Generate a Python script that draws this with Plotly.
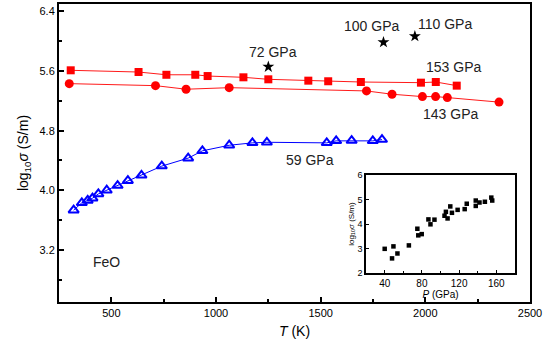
import plotly.graph_objects as go

# ---- data ----
T_153 = [306, 630, 763, 901, 960, 1131, 1250, 1441, 1536, 1692, 1979, 2050, 2150]
s_153 = [5.61, 5.587, 5.55, 5.55, 5.533, 5.516, 5.489, 5.471, 5.463, 5.453, 5.444, 5.453, 5.404]

T_143 = [299, 711, 857, 1063, 1719, 1841, 1986, 2049, 2105, 2352]
s_143 = [5.431, 5.404, 5.356, 5.377, 5.333, 5.289, 5.257, 5.257, 5.244, 5.183]

T_59 = [320, 359, 387, 410, 438, 478, 530, 579, 644, 741, 867, 935, 1063, 1174, 1243,
        1529, 1574, 1648, 1749, 1793]
s_59 = [3.733, 3.831, 3.863, 3.893, 3.951, 4.0, 4.063, 4.129, 4.2, 4.324, 4.431, 4.529,
        4.604, 4.636, 4.644, 4.636, 4.663, 4.667, 4.663, 4.68]

T_star = [1250, 1800, 1950]
s_star = [5.657, 5.987, 6.067]

P_inset = [40, 47.9, 49.4, 53.7, 66, 75.1, 76.1, 79.8, 87, 89.2, 93.5, 104.3, 105.8, 107.6,
           110.5, 112.3, 118.4, 126, 128.2, 137.9, 137.9, 141.9, 147.7, 154.6, 155.6]
s_inset = [2.99, 2.60, 3.09, 2.80, 3.13, 3.81, 3.54, 3.59, 4.19, 3.99, 4.18, 4.34, 4.50, 4.23,
           4.72, 4.46, 4.58, 4.61, 4.83, 4.96, 4.74, 4.88, 4.91, 5.08, 4.96]

labels = [("72 GPa", 1270, 5.853), ("100 GPa", 1742, 6.204), ("110 GPa", 2092, 6.227),
          ("153 GPa", 2135, 5.649), ("143 GPa", 2119, 5.023), ("59 GPa", 1449, 4.404),
          ("FeO", 477, 3.036)]

main_xticks = [500, 1000, 1500, 2000, 2500]
main_yticks = [3.2, 4.0, 4.8, 5.6, 6.4]
inset_xticks = [40, 80, 120, 160]
inset_yticks = [2, 3, 4, 5, 6]

FONT = "Liberation Sans, Arial, sans-serif"

fig = go.Figure()
fig.add_trace(go.Scatter(x=T_153, y=s_153, mode="lines+markers",
                         line=dict(color="#ff1a1a", width=1),
                         marker=dict(symbol="square", size=8, color="#ff0000")))
fig.add_trace(go.Scatter(x=T_143, y=s_143, mode="lines+markers",
                         line=dict(color="#ff1a1a", width=1),
                         marker=dict(symbol="circle", size=9, color="#ff0000")))
fig.add_trace(go.Scatter(x=T_59, y=s_59, mode="lines+markers",
                         line=dict(color="#0000ff", width=1),
                         marker=dict(symbol="triangle-up-open", size=9, color="#0000ff",
                                     line=dict(width=2, color="#0000ff"))))
fig.add_trace(go.Scatter(x=T_star, y=s_star, mode="markers",
                         marker=dict(symbol="star", size=9, color="black")))
fig.add_trace(go.Scatter(x=P_inset, y=s_inset, mode="markers", xaxis="x2", yaxis="y2",
                         marker=dict(symbol="square", size=4.5, color="black")))

for txt, x, y in labels:
    fig.add_annotation(x=x, y=y, xref="x", yref="y", text=txt, showarrow=False,
                       font=dict(size=14, color="#222", family=FONT))

axis_common = dict(showgrid=False, zeroline=False, showline=True, linecolor="black",
                   mirror=True, ticks="inside", tickcolor="black", automargin=False)

fig.update_layout(
    width=552, height=350,
    margin=dict(l=59, r=22, t=4, b=48),
    paper_bgcolor="white", plot_bgcolor="white",
    showlegend=False,
    font=dict(family=FONT, color="black"),
    xaxis=dict(**axis_common, range=[250, 2500], tickvals=main_xticks, linewidth=2,
               ticklen=5, tickwidth=1.5,
               minor=dict(ticks="inside", dtick=250, tick0=0, ticklen=3, tickcolor="black"),
               tickfont=dict(size=11), title=dict(text="<i>T</i> (K)", font=dict(size=14),
                                                  standoff=8)),
    yaxis=dict(**axis_common, range=[2.5, 6.5], tickvals=main_yticks, linewidth=2,
               ticklen=5, tickwidth=1.5, tickformat=".1f",
               minor=dict(ticks="inside", dtick=0.4, tick0=0, ticklen=3, tickcolor="black"),
               tickfont=dict(size=11),
               title=dict(text="log<sub>10</sub><i>σ</i> (S/m)", font=dict(size=14),
                          standoff=8)),
    xaxis2=dict(**axis_common, domain=[0.652, 0.968], anchor="y2", range=[20, 180],
                tickvals=inset_xticks, linewidth=1.5, ticklen=3, tickwidth=1,
                minor=dict(ticks="inside", dtick=20, tick0=0, ticklen=2, tickcolor="black"),
                tickfont=dict(size=10),
                title=dict(text="<i>P</i> (GPa)", font=dict(size=10), standoff=0)),
    yaxis2=dict(**axis_common, domain=[0.097, 0.426], anchor="x2", range=[2, 6],
                tickvals=inset_yticks, linewidth=1.5, ticklen=3, tickwidth=1,
                tickfont=dict(size=9),
                title=dict(text="log<sub>10</sub><i>σ</i> (S/m)", font=dict(size=8),
                           standoff=2)),
)

fig.write_html("out.html", config={"displayModeBar": False},
               post_script="document.body.style.margin='0';document.body.style.overflow='hidden';")
